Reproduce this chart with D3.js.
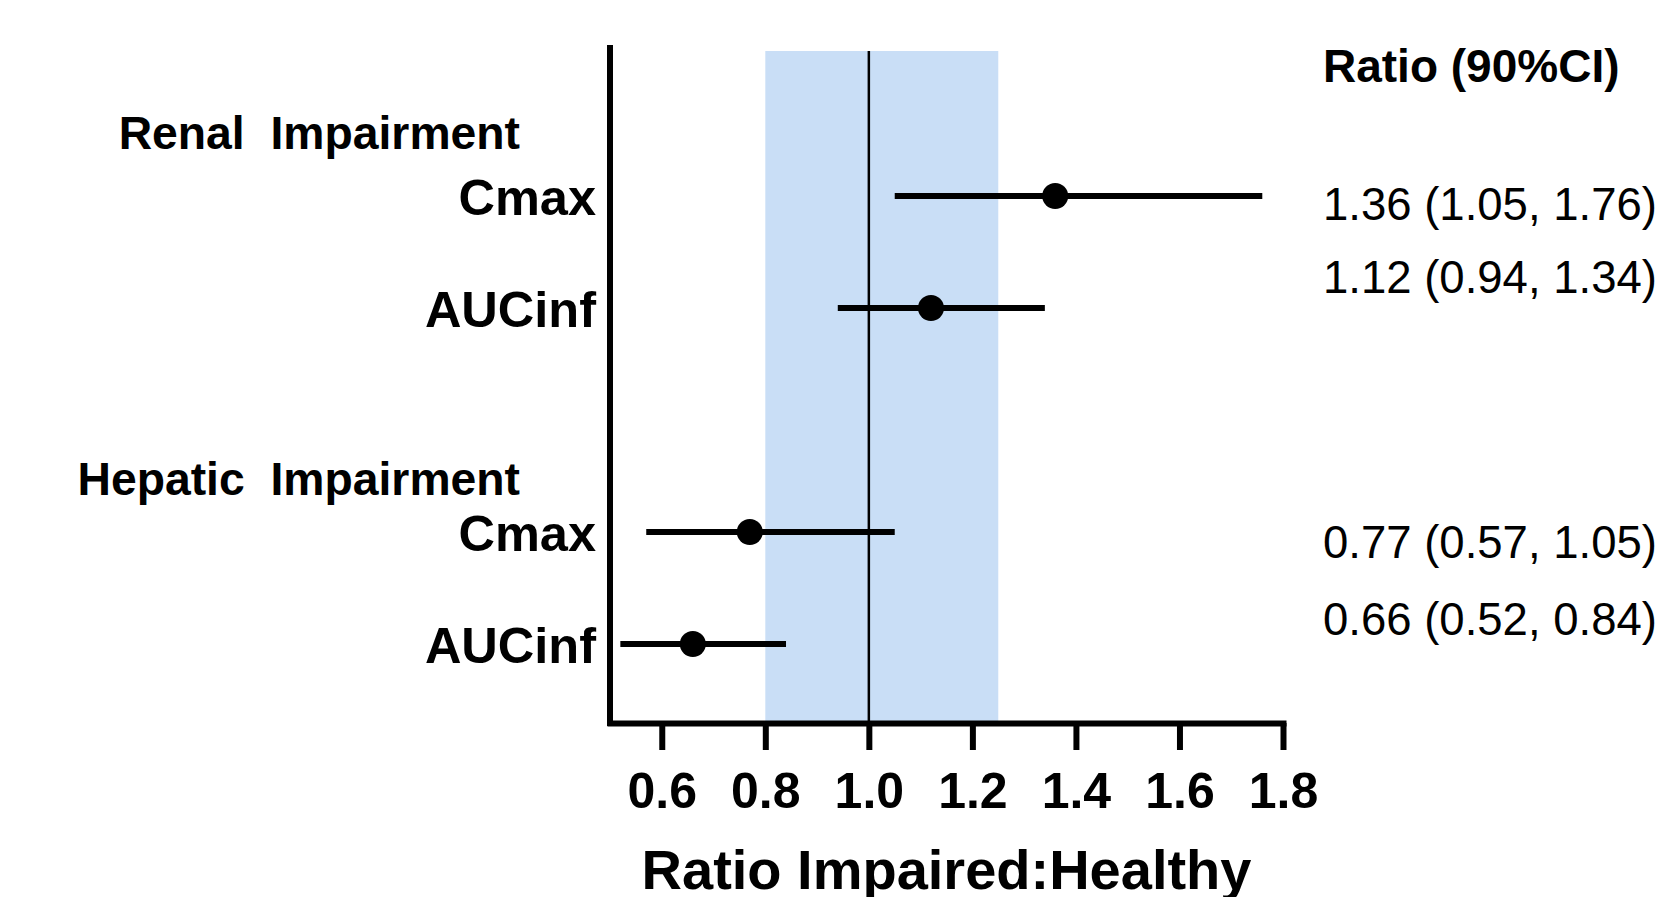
<!DOCTYPE html>
<html>
<head>
<meta charset="utf-8">
<script src="https://cdn.jsdelivr.net/npm/d3@7"></script>
<style>
  html, body { margin: 0; padding: 0; background: #fff; overflow: hidden; }
  text { font-family: "Liberation Sans", Arial, sans-serif; fill: #000; }
</style>
</head>
<body>
<script>
// data
var groupNames = ["Renal  Impairment", "Hepatic  Impairment"];
var paramNames = ["Cmax", "AUCinf", "Cmax", "AUCinf"];
var ratioValues = [1.36, 1.12, 0.77, 0.66];
var lowerCI = [1.05, 0.94, 0.57, 0.52];
var upperCI = [1.76, 1.34, 1.05, 0.84];
var xTickValues = [0.6, 0.8, 1.0, 1.2, 1.4, 1.6, 1.8];
var bandRange = [0.8, 1.25];
var refValue = 1.0;
var xTitle = "Ratio Impaired:Healthy";
var ciTitle = "Ratio (90%CI)";

// layout (row slots on the vertical axis)
var rowSlot = [0, 1, 3, 4];
var groupSlot = [-0.42, 2.67];
var textSlot = [0.21, 0.87, 3.23, 3.92];

var W = 1660, H = 897;
var svg = d3.select("body").append("svg")
    .attr("width", W)
    .attr("height", H);

var x = d3.scaleLinear()
    .domain([0.5, 1.8])
    .range([610, 1283]);

var y = d3.scaleLinear()
    .domain([0, 4])
    .range([196, 644]);

var axisY = 723, topY = 48, bandTop = 51;

// acceptance band
svg.append("rect")
    .attr("x", x(bandRange[0]))
    .attr("y", bandTop)
    .attr("width", x(bandRange[1]) - x(bandRange[0]))
    .attr("height", axisY - bandTop)
    .attr("fill", "#c9def6");

// reference line at 1
svg.append("line")
    .attr("x1", x(refValue)).attr("x2", x(refValue))
    .attr("y1", bandTop).attr("y2", axisY)
    .attr("stroke", "#000")
    .attr("stroke-width", 2.5);

// x axis
var xAxis = svg.append("g")
    .attr("transform", "translate(0," + axisY + ")")
    .call(d3.axisBottom(x)
	  .tickValues(xTickValues)
	  .tickFormat(d3.format(".1f"))
	  .tickSize(27)
	  .tickSizeOuter(0));

xAxis.select(".domain")
    .attr("stroke", "#000")
    .attr("stroke-width", 6)
    .attr("stroke-linecap", "square");
xAxis.selectAll(".tick line")
    .attr("stroke", "#000")
    .attr("stroke-width", 6);
xAxis.selectAll(".tick text")
    .attr("y", 85)
    .attr("dy", null)
    .attr("font-size", 50)
    .attr("font-weight", "bold")
    .attr("font-family", "'Liberation Sans', Arial, sans-serif")
    .attr("fill", "#000");

// y axis line
svg.append("line")
    .attr("x1", x.range()[0]).attr("x2", x.range()[0])
    .attr("y1", topY).attr("y2", axisY)
    .attr("stroke", "#000")
    .attr("stroke-width", 6)
    .attr("stroke-linecap", "square");

// axis title
svg.append("text")
    .attr("x", (x.range()[0] + x.range()[1]) / 2)
    .attr("y", 889)
    .attr("text-anchor", "middle")
    .attr("font-size", 56)
    .attr("font-weight", "bold")
    .text(xTitle);

// group headers
svg.selectAll("text.group")
    .data(groupNames)
    .enter().append("text")
    .attr("class", "group")
    .attr("x", 520)
    .attr("y", function(d, i) { return y(groupSlot[i]); })
    .attr("text-anchor", "end")
    .attr("font-size", 46.3)
    .attr("font-weight", "bold")
    .style("white-space", "pre")
    .text(function(d) { return d; });

// row labels
svg.selectAll("text.param")
    .data(paramNames)
    .enter().append("text")
    .attr("class", "param")
    .attr("x", 596)
    .attr("y", function(d, i) { return y(rowSlot[i]) + 19; })
    .attr("text-anchor", "end")
    .attr("font-size", 50.5)
    .attr("font-weight", "bold")
    .text(function(d) { return d; });

// confidence intervals
var rows = svg.append("g").selectAll("g")
    .data(ratioValues)
    .enter().append("g");

rows.append("line")
    .attr("x1", function(d, i) { return x(lowerCI[i]); })
    .attr("x2", function(d, i) { return x(upperCI[i]); })
    .attr("y1", function(d, i) { return y(rowSlot[i]); })
    .attr("y2", function(d, i) { return y(rowSlot[i]); })
    .attr("stroke", "#000")
    .attr("stroke-width", 6);

rows.append("circle")
    .attr("cx", function(d) { return x(d); })
    .attr("cy", function(d, i) { return y(rowSlot[i]); })
    .attr("r", 13)
    .attr("fill", "#000");

// ratio column
svg.append("text")
    .attr("x", 1323)
    .attr("y", 82)
    .attr("font-size", 46)
    .attr("font-weight", "bold")
    .text(ciTitle);

var f2 = d3.format(".2f");
svg.selectAll("text.ci")
    .data(ratioValues)
    .enter().append("text")
    .attr("class", "ci")
    .attr("x", 1323)
    .attr("y", function(d, i) { return y(textSlot[i]); })
    .attr("font-size", 45.5)
    .text(function(d, i) {
	return f2(d) + " (" + f2(lowerCI[i]) + ", " + f2(upperCI[i]) + ")";
    });
</script>
</body>
</html>
